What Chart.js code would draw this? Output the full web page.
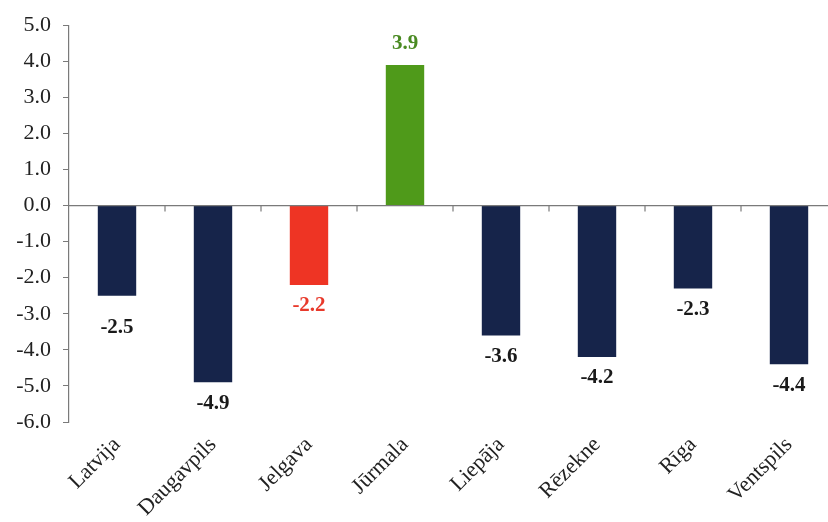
<!DOCTYPE html>
<html>
<head>
<meta charset="utf-8">
<script src="https://cdn.jsdelivr.net/npm/chart.js@4/dist/chart.umd.min.js"></script>
<style>
  html, body { margin:0; padding:0; background:#fff; overflow:hidden; }
  #wrap { position:relative; width:837px; height:522px; }
</style>
</head>
<body>
<div id="wrap"><canvas id="c"></canvas></div>
<script>
const categories = ['Latvija','Daugavpils','Jelgava','Jūrmala','Liepāja','Rēzekne','Rīga','Ventspils'];
const values = [-2.5, -4.9, -2.2, 3.9, -3.6, -4.2, -2.3, -4.4];
const barColors = ['#16244a','#16244a','#ee3424','#4f9a1a','#16244a','#16244a','#16244a','#16244a'];
const labelColors = ['#1a1a1a','#1a1a1a','#e8392b','#4a8a22','#1a1a1a','#1a1a1a','#1a1a1a','#1a1a1a'];
const yMin = -6, yMax = 5;

const SERIF = '"Liberation Serif", "DejaVu Serif", "Times New Roman", serif';

// zero line + small tick marks at category boundaries, like the original
const zeroAxis = {
  id:'zeroAxis',
  afterDatasetsDraw(chart) {
    const { ctx, chartArea, scales:{ x, y } } = chart;
    const y0 = y.getPixelForValue(0);
    ctx.save();
    ctx.strokeStyle = '#7a7a7a'; ctx.lineWidth = 1.2;
    ctx.beginPath(); ctx.moveTo(chartArea.left, y0); ctx.lineTo(chartArea.right, y0); ctx.stroke();
    const half = (x.getPixelForValue(1) - x.getPixelForValue(0)) / 2;
    for (let i = 0; i < categories.length - 1; i++) {
      const px = x.getPixelForValue(i) + half;
      ctx.beginPath(); ctx.moveTo(px, y0); ctx.lineTo(px, y0 + 6); ctx.stroke();
    }
    ctx.restore();
  }
};

const valueLabels = {
  id:'valueLabels',
  afterDatasetsDraw(chart) {
    const { ctx } = chart;
    const meta = chart.getDatasetMeta(0);
    ctx.save();
    ctx.font = 'bold 21px ' + SERIF;
    ctx.textAlign = 'center'; ctx.textBaseline = 'middle';
    meta.data.forEach((bar, i) => {
      const v = values[i];
      const off = v < 0 ? (i === 0 ? 32 : 21) : -21;
      ctx.fillStyle = labelColors[i];
      ctx.fillText(v.toFixed(1), bar.x, bar.y + off);
    });
    ctx.restore();
  }
};

new Chart(document.getElementById('c'), {
  type:'bar',
  data:{ labels:categories, datasets:[{ data:values, backgroundColor:barColors, categoryPercentage:1, barPercentage:0.4 }]},
  options:{
    responsive:true, maintainAspectRatio:false, animation:false,
    layout:{ padding:{ top:20, right:0, left:0, bottom:0 } },
    plugins:{ legend:{ display:false }, tooltip:{ enabled:false } },
    scales:{
      x:{
        grid:{ display:false }, border:{ display:false },
        ticks:{ color:'#222', font:{ family:SERIF, size:22 }, minRotation:45, maxRotation:45, padding:2, autoSkip:false },
        afterFit(s) { s.height = 100; }
      },
      y:{
        min:yMin, max:yMax,
        border:{ display:true, color:'#7a7a7a', width:1.2 },
        grid:{ drawOnChartArea:false, tickLength:6, tickColor:'#7a7a7a' },
        ticks:{ stepSize:1, color:'#222', padding:12, font:{ family:SERIF, size:22 }, callback:v => Number(v).toFixed(1) },
        afterFit(s) { s.width = 69; }
      }
    }
  },
  plugins:[zeroAxis, valueLabels]
});
</script>
</body>
</html>
